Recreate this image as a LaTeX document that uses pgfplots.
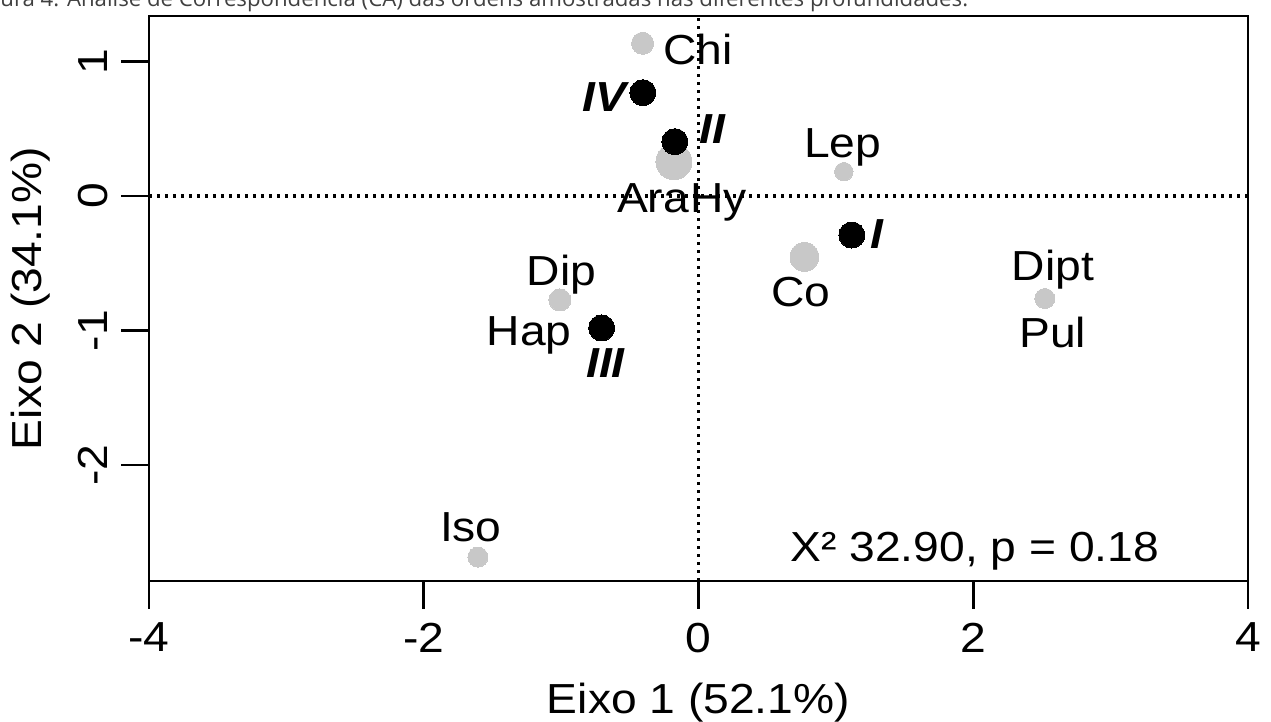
\documentclass[border=0pt]{standalone}
\usepackage{fontspec}
\setmainfont{Liberation Sans}[FakeStretch=1.1]
\newfontfamily\capfont{Open Sans}
\usepackage{pgfplots}
\pgfplotsset{compat=1.18}
\definecolor{ptgray}{RGB}{200,200,200}
\definecolor{capgray}{RGB}{64,64,64}
\begin{document}
\fontsize{21pt}{25pt}\selectfont
\begin{tikzpicture}[x=1pt,y=1pt]
\useasboundingbox (0,0) rectangle (635.5,361);
\node[anchor=base west, inner sep=0pt, font=\capfont\fontsize{11.1pt}{13pt}\selectfont, text=capgray] at (0,357.6) {\llap{Fig}ura 4. Análise de Correspondência (CA) das ordens amostradas nas diferentes profundidades.};
\begin{axis}[
  at={(74.5pt,70.5pt)}, anchor=south west,
  scale only axis, width=549.5pt, height=282.5pt,
  xmin=-4, xmax=4, ymin=-2.862, ymax=1.338,
  xtick={-4,-2,0,2,4}, ytick={-2,-1,0,1},
  tick align=outside, major tick length=13.8pt,
  tick style={line width=1.35pt, black},
  axis line style={line width=1.35pt},
  xtick pos=bottom, ytick pos=left,
  /pgf/number format/assume math mode=true,
  xticklabel style={anchor=north, inner sep=0pt},
  xticklabel shift=7pt,
  yticklabel style={rotate=90, anchor=base, inner sep=0pt},
  yticklabel shift=6.7pt,
  xlabel={Eixo 1 (52.1\%)},
  ylabel={Eixo 2 (34.1\%)},
  xlabel style={at={(axis description cs:0.5,-0.2354)}, anchor=base, inner sep=0pt},
  ylabel style={at={(axis description cs:-0.0974,0.5)}, anchor=base, inner sep=0pt},
  clip=false,
]
% reference lines
\draw[line width=1.6pt, dash pattern=on 1.6pt off 2.4pt] (axis cs:-4,0) -- (axis cs:4,0);
\draw[line width=1.6pt, dash pattern=on 1.6pt off 2.4pt] (axis cs:0,-2.862) -- (axis cs:0,1.338);
% orders (grey)
\addplot[only marks, mark=*, color=ptgray, mark size=5.5pt, mark options={draw=ptgray, fill=ptgray, line width=0pt}] coordinates {(-0.407,1.135) (-1.009,-0.773)};
\addplot[only marks, mark=*, color=ptgray, mark size=9pt, mark options={draw=ptgray, fill=ptgray, line width=0pt}] coordinates {(-0.179,0.255)};
\addplot[only marks, mark=*, color=ptgray, mark size=4.6pt, mark options={draw=ptgray, fill=ptgray, line width=0pt}] coordinates {(1.058,0.181)};
\addplot[only marks, mark=*, color=ptgray, mark size=7.2pt, mark options={draw=ptgray, fill=ptgray, line width=0pt}] coordinates {(0.771,-0.453)};
\addplot[only marks, mark=*, color=ptgray, mark size=5pt, mark options={draw=ptgray, fill=ptgray, line width=0pt}] coordinates {(2.521,-0.762) (-1.606,-2.684) (-0.705,-0.981)};
% depths (black)
\addplot[only marks, mark=*, color=black, mark size=6.5pt, mark options={draw=black, fill=black, line width=0pt}] coordinates {(-0.405,0.768) (-0.172,0.404) (1.116,-0.290) (-0.705,-0.981)};
% labels
\begin{scope}[every node/.style={inner sep=0pt}]
\node[anchor=base west] at (axis cs:-0.259,0.974) {Chi};
\node[anchor=base east] at (axis cs:-0.499,0.625) {\textbf{\textit{IV}}};
\node[anchor=base west] at (axis cs:0.003,0.387) {\textbf{\textit{II}}};
\node[anchor=base east] at (axis cs:-0.066,-0.126) {Ara};
\node[anchor=base west] at (axis cs:-0.064,-0.126) {Hy};
\node[anchor=base] at (axis cs:1.050,0.283) {Lep};
\node[anchor=base west] at (axis cs:1.247,-0.394) {\textbf{\textit{I}}};
\node[anchor=base] at (axis cs:0.745,-0.818) {Co};
\node[anchor=base] at (axis cs:-0.998,-0.662) {Dip};
\node[anchor=base east] at (axis cs:-0.921,-1.108) {Hap};
\node[anchor=base] at (axis cs:-0.674,-1.346) {\textbf{\textit{III}}};
\node[anchor=base] at (axis cs:2.579,-0.625) {Dipt};
\node[anchor=base] at (axis cs:2.579,-1.123) {Pul};
\node[anchor=base] at (axis cs:-1.657,-2.572) {Iso};
\node[anchor=base] at (axis cs:2.012,-2.714) {X² 32.90, p = 0.18};
\end{scope}
\end{axis}
\end{tikzpicture}
\end{document}
